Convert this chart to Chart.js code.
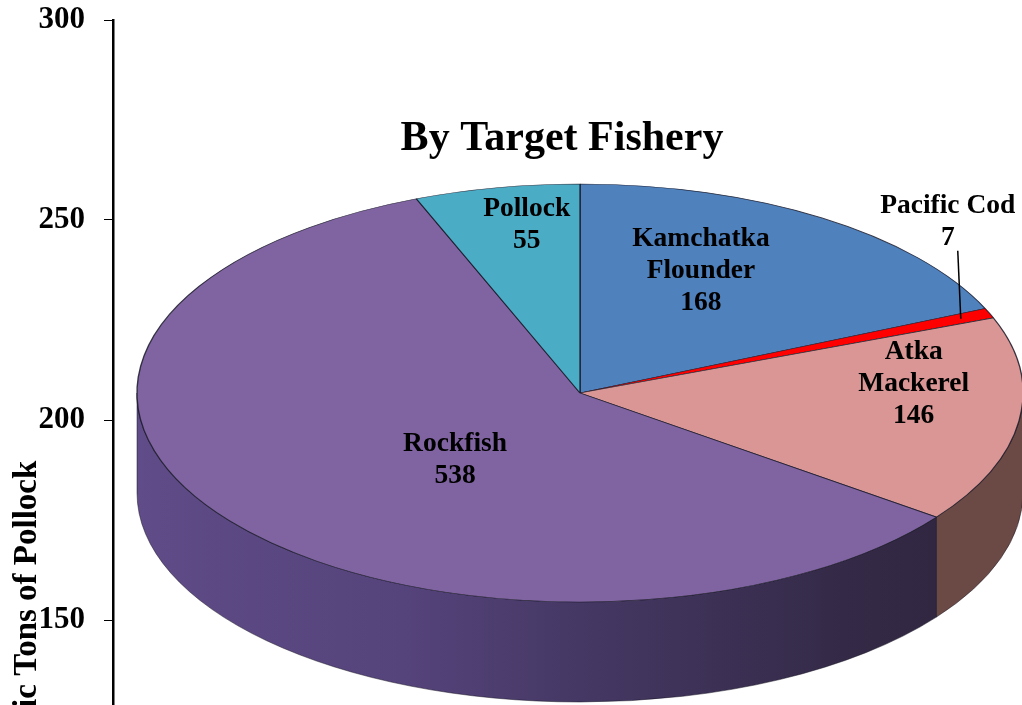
<!DOCTYPE html>
<html>
<head>
<meta charset="utf-8">
<script src="https://cdn.jsdelivr.net/npm/chart.js@4/dist/chart.umd.min.js"></script>
<style>
  html, body { margin: 0; padding: 0; background: #fff; overflow: hidden; }
  #wrap { position: relative; width: 1022px; height: 705px; overflow: hidden; background: #fff; }
  #wrap canvas { position: absolute; left: 0; top: 0; }
</style>
</head>
<body>
<div id="wrap">
  <canvas id="axis" width="150" height="1240"></canvas>
  <canvas id="pie" width="1022" height="705"></canvas>
</div>
<script>
const fisheries = [['Kamchatka', 'Flounder'], ['Pacific Cod'], ['Atka', 'Mackerel'], ['Rockfish'], ['Pollock']];
const tons = [168, 7, 146, 538, 55];
const axisMin = 0;
const axisMax = 300;
const axisStep = 50;

const topColors = ['#4f81bd', '#ff0000', '#d99694', '#8064a2', '#4bacc6'];

// where the tilted pie sits on the page
const PIE = { cx: 580, cy: 393, rx: 443, ry: 209, depth: 100 };
// label anchor: fraction of radius along the slice middle, then a shift
const labelSpots = [
  { f: 0.5, dx: 0, dy: -35 },
  { f: 0.93, dx: -13, dy: -97, leader: true },
  { f: 0.76, dx: 0, dy: -30 },
  { f: 0.356, dx: 0, dy: 21 },
  { f: 0.64, dx: 0, dy: -37 }
];
const serif = '"Liberation Serif", "Times New Roman", serif';

function drawSides(ctx, arcs) {
  const grad = ctx.createLinearGradient(PIE.cx - PIE.rx, 0, PIE.cx + PIE.rx, 0);
  grad.addColorStop(0, '#5f4c88');
  grad.addColorStop(0.3, '#55437b');
  grad.addColorStop(0.5, '#453864');
  grad.addColorStop(0.8, '#342a47');
  grad.addColorStop(1, '#2e243c');
  const sideFill = ['#2f4d72', '#990000', '#6b4a45', grad, '#2d6776'];
  arcs.forEach((arc, i) => {
    const a0 = Math.max(arc.startAngle, 0);
    const a1 = Math.min(arc.endAngle, Math.PI);
    if (a1 <= a0) return;
    ctx.beginPath();
    ctx.ellipse(PIE.cx, PIE.cy, PIE.rx, PIE.ry, 0, a0, a1);
    ctx.ellipse(PIE.cx, PIE.cy + PIE.depth, PIE.rx, PIE.ry, 0, a1, a0, true);
    ctx.closePath();
    ctx.fillStyle = sideFill[i];
    ctx.fill();
    ctx.strokeStyle = 'rgba(20,15,30,0.6)';
    ctx.lineWidth = 0.8;
    ctx.stroke();
  });
}

function drawLabels(ctx, chart, arcs) {
  ctx.save();
  ctx.font = 'bold 27.5px ' + serif;
  ctx.fillStyle = '#000';
  ctx.textAlign = 'center';
  ctx.textBaseline = 'middle';
  arcs.forEach((arc, i) => {
    const spot = labelSpots[i];
    const mid = (arc.startAngle + arc.endAngle) / 2;
    const px = PIE.cx + PIE.rx * spot.f * Math.cos(mid);
    const py = PIE.cy + PIE.ry * spot.f * Math.sin(mid);
    const lx = px + spot.dx;
    const ly = py + spot.dy;
    const lines = chart.data.labels[i].concat(String(chart.data.datasets[0].data[i]));
    lines.forEach((t, k) => {
      ctx.fillText(t, lx, ly + (k - (lines.length - 1) / 2) * 32);
    });
    if (spot.leader) {
      ctx.beginPath();
      ctx.moveTo(lx + 10, ly + 29);
      ctx.lineTo(px, py);
      ctx.strokeStyle = '#000';
      ctx.lineWidth = 1.5;
      ctx.stroke();
    }
  });
  ctx.restore();
}

const pie3d = {
  id: 'pie3d',
  beforeDatasetsDraw(chart) {
    const ctx = chart.ctx;
    const arcs = chart.getDatasetMeta(0).data;
    const { x, y, outerRadius } = arcs[0];
    drawSides(ctx, arcs);
    ctx.save();
    ctx.translate(PIE.cx, PIE.cy);
    ctx.scale(PIE.rx / outerRadius, PIE.ry / outerRadius);
    ctx.translate(-x, -y);
  },
  afterDatasetsDraw(chart) {
    chart.ctx.restore();
    drawLabels(chart.ctx, chart, chart.getDatasetMeta(0).data);
  }
};

new Chart(document.getElementById('pie'), {
  type: 'pie',
  data: {
    labels: fisheries,
    datasets: [{
      data: tons,
      backgroundColor: topColors,
      borderColor: 'rgba(25,25,40,0.85)',
      borderWidth: 0.8,
      clip: false
    }]
  },
  options: {
    responsive: false,
    animation: false,
    events: [],
    layout: { padding: { left: 102, right: 0, top: 0, bottom: 10 } },
    plugins: {
      legend: { display: false },
      tooltip: { enabled: false },
      title: {
        display: true,
        text: 'By Target Fishery',
        color: '#000',
        font: { family: serif, size: 42, weight: 'bold' },
        padding: { top: 114, bottom: 10 }
      }
    }
  },
  plugins: [pie3d]
});

new Chart(document.getElementById('axis'), {
  type: 'scatter',
  data: { datasets: [{ data: [] }] },
  options: {
    responsive: false,
    animation: false,
    events: [],
    layout: { padding: { left: 0, right: 0, top: 20, bottom: 20 } },
    plugins: { legend: { display: false }, tooltip: { enabled: false } },
    scales: {
      x: { display: false },
      y: {
        min: axisMin,
        max: axisMax,
        afterFit(scale) {
          scale.width = 113;
          scale.paddingTop = 0;
          scale.paddingBottom = 0;
        },
        ticks: {
          stepSize: axisStep,
          color: '#000',
          padding: 19,
          font: { family: serif, size: 31, weight: 'bold' }
        },
        grid: { drawOnChartArea: false, drawTicks: true, tickLength: 9, color: '#000', lineWidth: 1 },
        border: { display: true, color: '#000', width: 2.5 },
        title: {
          display: true,
          text: 'Metric Tons of Pollock',
          color: '#000',
          padding: { top: 8, bottom: 0 },
          font: { family: serif, size: 33, weight: 'bold' }
        }
      }
    }
  }
});
</script>
</body>
</html>
